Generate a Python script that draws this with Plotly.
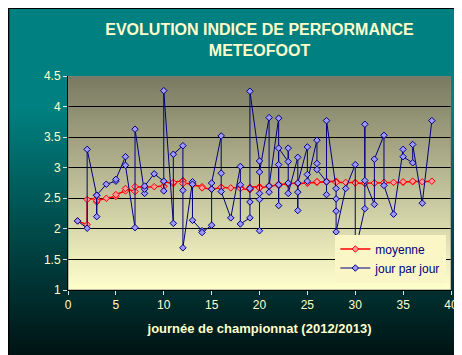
import plotly.graph_objects as go

# ---- data ----
journee = [1, 2, 2, 3, 3, 3, 4, 5, 5, 6, 6, 7, 7, 8, 8, 8, 9, 10, 10, 10,
           11, 11, 12, 12, 12, 13, 13, 13, 14, 14, 15, 15, 15, 16, 16, 16, 17,
           18, 18, 18, 19, 19, 19, 19, 20, 20, 20, 20, 20, 21, 21, 21,
           22, 22, 22, 22, 22, 23, 23, 23, 23, 24, 24, 24, 24, 25, 25, 25,
           26, 26, 26, 27, 27, 27, 28, 28, 28, 28, 29, 30, 30, 31, 31, 31,
           32, 32, 33, 33, 34, 35, 35, 36, 36, 37, 38]

jour_par_jour = [2.13, 2.01, 3.30, 2.55, 2.20, 2.55, 2.73, 2.78, 2.81, 3.18, 3.04,
                 2.02, 3.63, 2.58, 2.65, 2.70, 2.90, 2.78, 2.62, 4.26, 2.09, 3.22,
                 3.36, 2.63, 1.69, 2.77, 2.73, 2.14, 1.97, 1.94, 2.06, 2.65, 2.75,
                 3.52, 2.91, 2.61, 2.18, 3.02, 2.72, 2.08, 2.18, 2.44, 2.66, 4.25,
                 3.11, 1.97, 2.48, 2.58, 2.93, 3.82, 2.60, 2.70, 3.81, 2.38, 2.72,
                 3.05, 3.32, 3.10, 3.32, 2.75, 2.58, 3.17, 2.30, 2.60, 2.75, 3.34,
                 2.89, 2.78, 3.45, 3.07, 2.97, 2.77, 2.56, 3.77, 2.66, 2.49, 2.29,
                 1.95, 2.66, 3.05, 1.63, 2.33, 3.71, 2.79, 2.40, 3.14, 3.53, 2.71,
                 2.24, 3.30, 3.18, 3.08, 3.38, 2.42, 3.77]

moyenne = [2.13, 2.07, 2.48, 2.50, 2.44, 2.46, 2.50, 2.53, 2.56, 2.62, 2.66,
           2.61, 2.69, 2.68, 2.68, 2.68, 2.69, 2.70, 2.69, 2.77, 2.74, 2.76,
           2.79, 2.78, 2.74, 2.74, 2.74, 2.72, 2.69, 2.67, 2.65, 2.65, 2.65,
           2.67, 2.68, 2.68, 2.67, 2.68, 2.68, 2.66, 2.65, 2.64, 2.65, 2.68,
           2.69, 2.68, 2.67, 2.67, 2.67, 2.70, 2.70, 2.70, 2.72, 2.71, 2.71,
           2.72, 2.73, 2.73, 2.74, 2.74, 2.74, 2.75, 2.74, 2.74, 2.74, 2.75,
           2.75, 2.75, 2.76, 2.77, 2.77, 2.77, 2.77, 2.78, 2.78, 2.77, 2.77,
           2.76, 2.76, 2.76, 2.75, 2.74, 2.75, 2.75, 2.75, 2.75, 2.76, 2.76,
           2.76, 2.76, 2.77, 2.77, 2.78, 2.77, 2.78]

x_ticks = [0, 5, 10, 15, 20, 25, 30, 35, 40]
y_ticks = [1, 1.5, 2, 2.5, 3, 3.5, 4, 4.5]

# ---- layout geometry ----
W, H = 462, 355
ML, MR, MT, MB = 60, 17, 68, 73
PW, PH = W - ML - MR, H - MT - MB

TXT = "#FFFFCC"
FONT = "Liberation Sans, Arial, sans-serif"


def lerp(c1, c2, t):
    return "rgb(%d,%d,%d)" % tuple(round(a + (b - a) * t) for a, b in zip(c1, c2))


shapes = []
# paper gradient (teal -> near black); each band runs down to the bottom edge
# so that bands overlap and no seams appear
band = 4
pbot = -MB / PH
for y0 in range(0, H, band):
    yc = y0 + band / 2
    t = 0.0 if yc <= 100 else min(1.0, (yc - 100) / 255)
    col = lerp((0, 128, 128), (0, 16, 16), t)
    shapes.append(dict(type="rect", xref="paper", yref="paper", layer="below",
                       x0=-ML / PW, x1=1 + MR / PW,
                       y0=pbot, y1=(H - MB - y0) / PH,
                       fillcolor=col, line=dict(width=0)))
# plot area gradient (grey olive at top -> light yellow at bottom)
nstr = 70
for i in range(nstr):
    t = i / (nstr - 1)
    col = lerp((0xFF, 0xFF, 0xCC), (0x7A, 0x7A, 0x62), t)
    shapes.append(dict(type="rect", xref="x", yref="y", layer="below",
                       x0=0, x1=40, y0=1 + 3.5 * i / nstr, y1=4.5,
                       fillcolor=col, line=dict(width=0)))
# plot border (grey)
shapes.append(dict(type="rect", xref="x", yref="y", layer="above",
                   x0=0, x1=40, y0=1, y1=4.5, line=dict(color="#808080", width=1)))
# outer black frame
shapes.append(dict(type="rect", xref="paper", yref="paper", layer="above",
                   x0=-ML / PW, x1=1 + MR / PW, y0=-MB / PH, y1=1 + MT / PH,
                   line=dict(color="black", width=2)))

fig = go.Figure()
fig.add_trace(go.Scatter(
    x=journee, y=moyenne, name="moyenne", mode="lines+markers",
    line=dict(color="#FF0000", width=1.5),
    marker=dict(symbol="diamond", size=5, color="#FF9A9A",
                line=dict(color="#FF0000", width=1)),
))
fig.add_trace(go.Scatter(
    x=journee, y=jour_par_jour, name="jour par jour", mode="lines+markers",
    line=dict(color="#000080", width=1),
    marker=dict(symbol="diamond", size=5, color="#9F99FF",
                line=dict(color="#000080", width=1)),
))

fig.update_layout(
    width=W, height=H,
    margin=dict(l=ML, r=MR, t=MT, b=MB),
    paper_bgcolor="#008080",
    plot_bgcolor="rgba(0,0,0,0)",
    font=dict(family=FONT, size=12, color=TXT),
    title=dict(text="EVOLUTION INDICE DE PERFORMANCE<br>METEOFOOT",
               x=0.5, xanchor="center", xref="paper",
               y=1 - 27 / H, yanchor="middle", yref="container",
               font=dict(family=FONT, size=16, color=TXT, weight="bold")),
    shapes=shapes,
    showlegend=True,
    legend=dict(x=0.698, y=0.035, xanchor="left", yanchor="bottom",
                bgcolor="#FAF6C6", borderwidth=0,
                font=dict(family=FONT, size=12, color="#000080"),
                tracegroupgap=0, itemwidth=30),
)
fig.update_xaxes(
    range=[0, 40], tickvals=x_ticks, showgrid=False, zeroline=False,
    showline=True, linecolor="black", linewidth=1,
    ticks="outside", ticklen=4, tickcolor="#E0E0E0",
    tickfont=dict(family=FONT, size=12, color=TXT),
    title=dict(text="journée de championnat (2012/2013)", standoff=12,
               font=dict(family=FONT, size=13, color=TXT, weight="bold")),
)
fig.update_yaxes(
    range=[1, 4.5], tickvals=y_ticks, showgrid=True, gridcolor="black", gridwidth=1,
    zeroline=False, showline=True, linecolor="black", linewidth=1,
    ticks="outside", ticklen=4, tickcolor="#E0E0E0",
    tickfont=dict(family=FONT, size=12, color=TXT),
)

fig.write_html("out.html")
